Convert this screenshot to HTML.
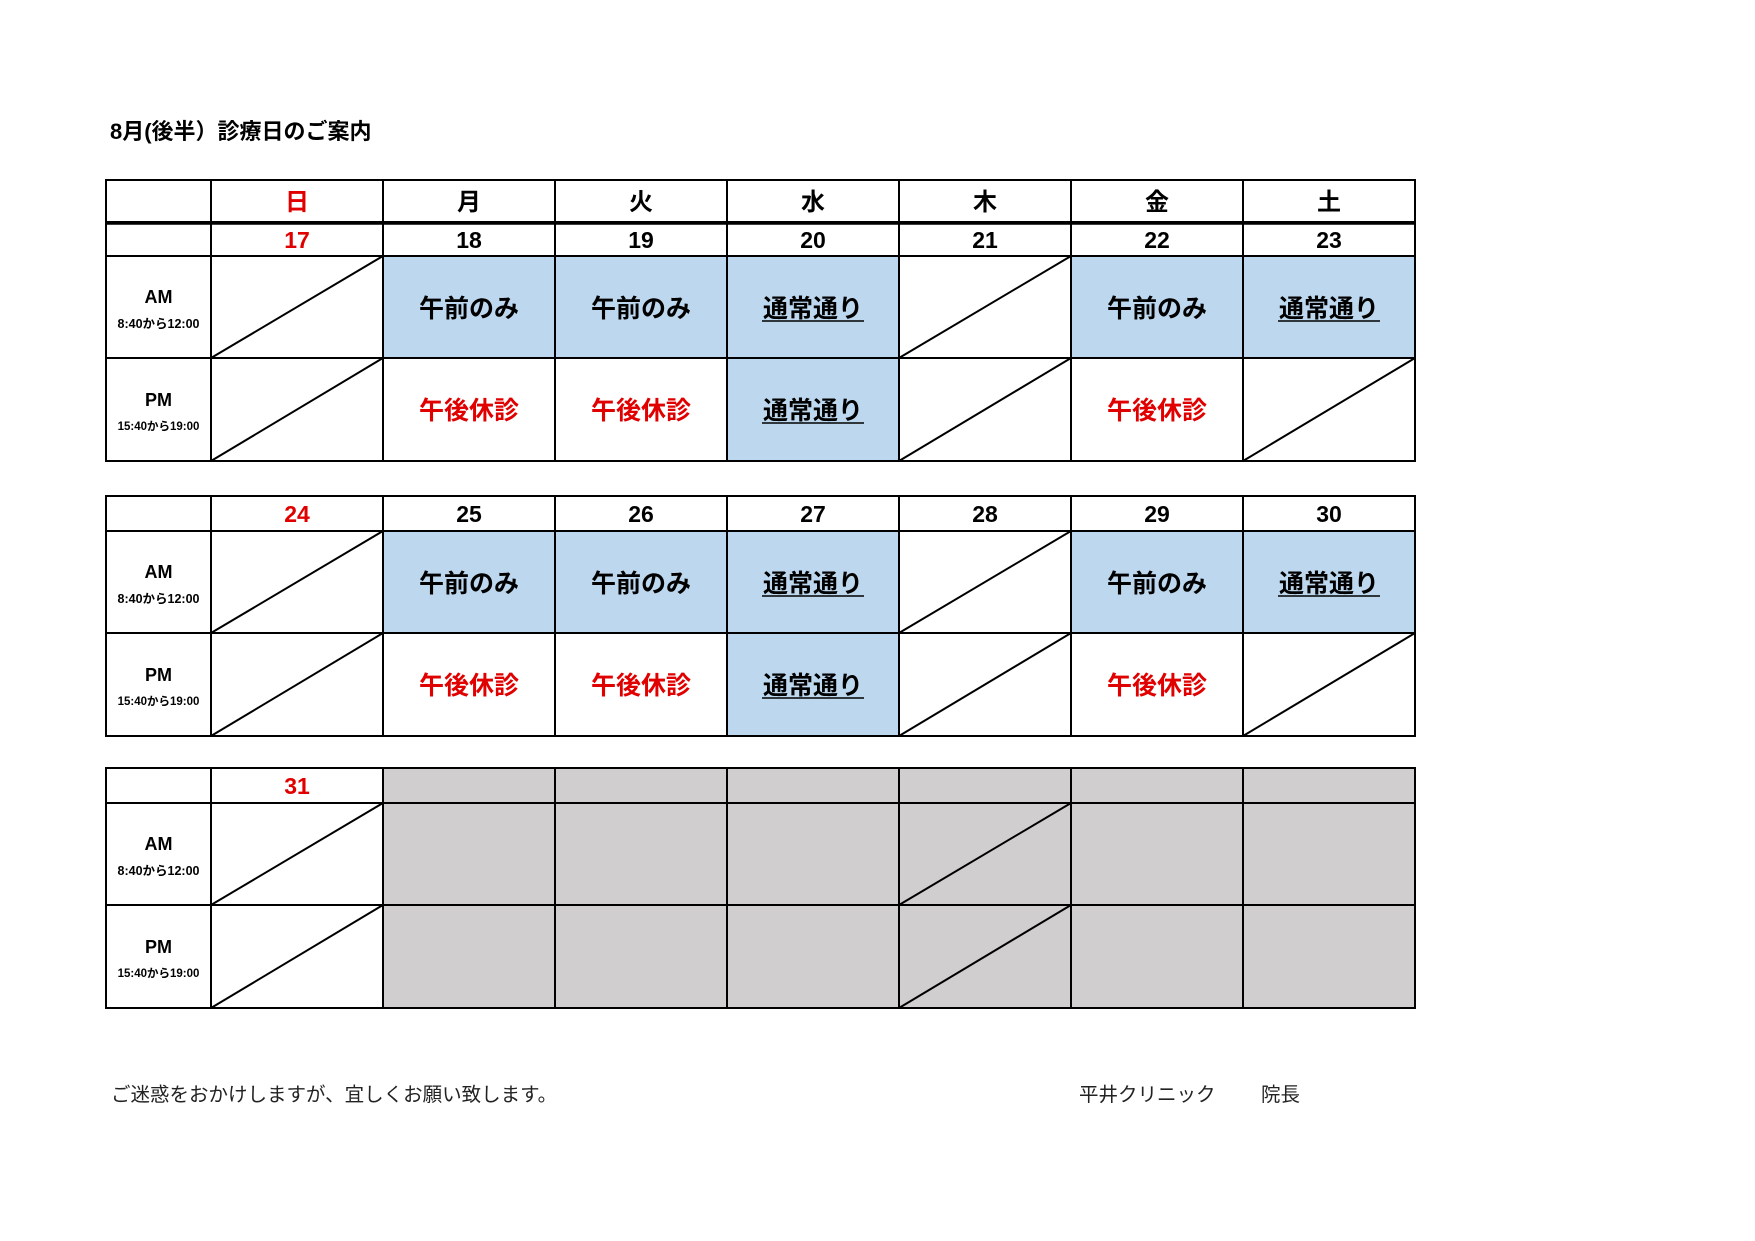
<!DOCTYPE html>
<html><head><meta charset="utf-8"><style>
html,body{margin:0;padding:0;background:#fff;}
svg{display:block;}
text{font-family:"Liberation Sans","Noto Sans CJK JP",sans-serif;}
.b{font-weight:bold;}
</style></head><body>
<svg width="1755" height="1241" viewBox="0 0 1755 1241" xmlns="http://www.w3.org/2000/svg">
<rect width="1755" height="1241" fill="#fff"/>
<text x="110" y="139" font-size="22" class="b" fill="#000">8月(後半）診療日のご案内</text>

<g stroke="#000" stroke-width="2" fill="none">
<rect x="106" y="180" width="1309" height="42"/>
</g>
<g font-size="24" class="b" text-anchor="middle" fill="#000">
<text x="297" y="210" fill="#e00000">日</text>
<text x="469" y="210">月</text><text x="641" y="210">火</text><text x="813" y="210">水</text>
<text x="985" y="210">木</text><text x="1157" y="210">金</text><text x="1329" y="210">土</text>
</g>
<g stroke="#000" stroke-width="2">
<line x1="211" y1="180" x2="211" y2="222"/><line x1="383" y1="180" x2="383" y2="222"/>
<line x1="555" y1="180" x2="555" y2="222"/><line x1="727" y1="180" x2="727" y2="222"/>
<line x1="899" y1="180" x2="899" y2="222"/><line x1="1071" y1="180" x2="1071" y2="222"/>
<line x1="1243" y1="180" x2="1243" y2="222"/>
<line x1="106" y1="223.5" x2="1415" y2="223.5" stroke-width="2.5"/>
</g>

<g transform="translate(0,222)">
<g fill="#bdd7ee">
<rect x="383" y="34" width="172" height="102"/><rect x="555" y="34" width="172" height="102"/>
<rect x="727" y="34" width="172" height="102"/><rect x="1071" y="34" width="172" height="102"/>
<rect x="1243" y="34" width="172" height="102"/><rect x="727" y="136" width="172" height="103"/>
</g>
<g stroke="#000" stroke-width="2" fill="none">
<rect x="106" y="0" width="1309" height="239"/>
<line x1="106" y1="34" x2="1415" y2="34"/><line x1="106" y1="136" x2="1415" y2="136"/>
<line x1="211" y1="0" x2="211" y2="239"/><line x1="383" y1="0" x2="383" y2="239"/>
<line x1="555" y1="0" x2="555" y2="239"/><line x1="727" y1="0" x2="727" y2="239"/>
<line x1="899" y1="0" x2="899" y2="239"/><line x1="1071" y1="0" x2="1071" y2="239"/>
<line x1="1243" y1="0" x2="1243" y2="239"/>
<line x1="211" y1="136" x2="383" y2="34"/><line x1="211" y1="239" x2="383" y2="136"/>
<line x1="899" y1="136" x2="1071" y2="34"/><line x1="899" y1="239" x2="1071" y2="136"/>
<line x1="1243" y1="239" x2="1415" y2="136"/>
</g>
<g font-size="23" class="b" text-anchor="middle" fill="#000">
<text x="297" y="26" fill="#e00000">17</text><text x="469" y="26">18</text><text x="641" y="26">19</text>
<text x="813" y="26">20</text><text x="985" y="26">21</text><text x="1157" y="26">22</text><text x="1329" y="26">23</text>
</g>
<g text-anchor="middle" class="b" fill="#000">
<text x="158.5" y="81" font-size="18">AM</text><text x="158.5" y="106" font-size="12.5">8:40から12:00</text>
<text x="158.5" y="184" font-size="18">PM</text><text x="158.5" y="208" font-size="11.5">15:40から19:00</text>
</g>
<g font-size="25" class="b" text-anchor="middle" fill="#000">
<text x="469" y="95">午前のみ</text><text x="641" y="95">午前のみ</text>
<text x="813" y="95">通常通り</text>
<text x="1157" y="95">午前のみ</text>
<text x="1329" y="95">通常通り</text>
<text x="469" y="197" fill="#e00000">午後休診</text><text x="641" y="197" fill="#e00000">午後休診</text>
<text x="813" y="197">通常通り</text>
<text x="1157" y="197" fill="#e00000">午後休診</text>
</g>
<g stroke="#000" stroke-width="1.6">
<line x1="762" y1="99" x2="864" y2="99"/><line x1="1278" y1="99" x2="1380" y2="99"/>
<line x1="762" y1="201" x2="864" y2="201"/>
</g>
</g>

<g transform="translate(0,496)">
<g fill="#bdd7ee">
<rect x="383" y="35" width="172" height="102"/><rect x="555" y="35" width="172" height="102"/>
<rect x="727" y="35" width="172" height="102"/><rect x="1071" y="35" width="172" height="102"/>
<rect x="1243" y="35" width="172" height="102"/><rect x="727" y="137" width="172" height="103"/>
</g>
<g stroke="#000" stroke-width="2" fill="none">
<rect x="106" y="0" width="1309" height="240"/>
<line x1="106" y1="35" x2="1415" y2="35"/><line x1="106" y1="137" x2="1415" y2="137"/>
<line x1="211" y1="0" x2="211" y2="240"/><line x1="383" y1="0" x2="383" y2="240"/>
<line x1="555" y1="0" x2="555" y2="240"/><line x1="727" y1="0" x2="727" y2="240"/>
<line x1="899" y1="0" x2="899" y2="240"/><line x1="1071" y1="0" x2="1071" y2="240"/>
<line x1="1243" y1="0" x2="1243" y2="240"/>
<line x1="211" y1="137" x2="383" y2="35"/><line x1="211" y1="240" x2="383" y2="137"/>
<line x1="899" y1="137" x2="1071" y2="35"/><line x1="899" y1="240" x2="1071" y2="137"/>
<line x1="1243" y1="240" x2="1415" y2="137"/>
</g>
<g font-size="23" class="b" text-anchor="middle" fill="#000">
<text x="297" y="26" fill="#e00000">24</text><text x="469" y="26">25</text><text x="641" y="26">26</text>
<text x="813" y="26">27</text><text x="985" y="26">28</text><text x="1157" y="26">29</text><text x="1329" y="26">30</text>
</g>
<g text-anchor="middle" class="b" fill="#000">
<text x="158.5" y="82" font-size="18">AM</text><text x="158.5" y="107" font-size="12.5">8:40から12:00</text>
<text x="158.5" y="185" font-size="18">PM</text><text x="158.5" y="209" font-size="11.5">15:40から19:00</text>
</g>
<g font-size="25" class="b" text-anchor="middle" fill="#000">
<text x="469" y="96">午前のみ</text><text x="641" y="96">午前のみ</text>
<text x="813" y="96">通常通り</text>
<text x="1157" y="96">午前のみ</text>
<text x="1329" y="96">通常通り</text>
<text x="469" y="198" fill="#e00000">午後休診</text><text x="641" y="198" fill="#e00000">午後休診</text>
<text x="813" y="198">通常通り</text>
<text x="1157" y="198" fill="#e00000">午後休診</text>
</g>
<g stroke="#000" stroke-width="1.6">
<line x1="762" y1="100" x2="864" y2="100"/><line x1="1278" y1="100" x2="1380" y2="100"/>
<line x1="762" y1="202" x2="864" y2="202"/>
</g>
</g>

<g transform="translate(0,768)">
<rect x="383" y="0" width="1032" height="240" fill="#d0cece"/>
<g stroke="#000" stroke-width="2" fill="none">
<rect x="106" y="0" width="1309" height="240"/>
<line x1="106" y1="35" x2="1415" y2="35"/><line x1="106" y1="137" x2="1415" y2="137"/>
<line x1="211" y1="0" x2="211" y2="240"/><line x1="383" y1="0" x2="383" y2="240"/>
<line x1="555" y1="0" x2="555" y2="240"/><line x1="727" y1="0" x2="727" y2="240"/>
<line x1="899" y1="0" x2="899" y2="240"/><line x1="1071" y1="0" x2="1071" y2="240"/>
<line x1="1243" y1="0" x2="1243" y2="240"/>
<line x1="211" y1="137" x2="383" y2="35"/><line x1="211" y1="240" x2="383" y2="137"/>
<line x1="899" y1="137" x2="1071" y2="35"/><line x1="899" y1="240" x2="1071" y2="137"/>
</g>
<text x="297" y="26" font-size="23" class="b" text-anchor="middle" fill="#e00000">31</text>
<g text-anchor="middle" class="b" fill="#000">
<text x="158.5" y="82" font-size="18">AM</text><text x="158.5" y="107" font-size="12.5">8:40から12:00</text>
<text x="158.5" y="185" font-size="18">PM</text><text x="158.5" y="209" font-size="11.5">15:40から19:00</text>
</g>
</g>

<g font-size="19.5" fill="#222">
<text x="111" y="1101">ご迷惑をおかけしますが、宜しくお願い致します。</text>
<text x="1079" y="1101">平井クリニック</text>
<text x="1261" y="1101">院長</text>
</g>
</svg>
</body></html>
